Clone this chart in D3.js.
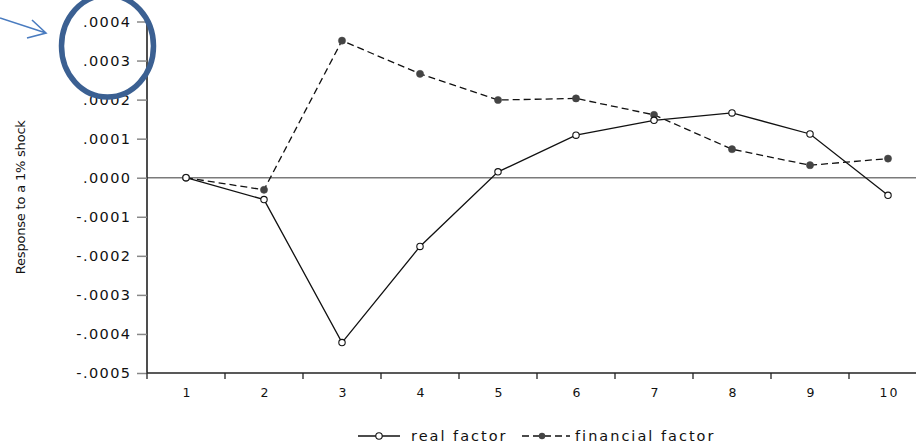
<!DOCTYPE html>
<html>
<head>
<meta charset="utf-8">
<script src="https://cdn.jsdelivr.net/npm/d3@7"></script>
<style>
  html, body { margin: 0; padding: 0; background: #fff; }
  svg { display: block; }
  text { font-family: "DejaVu Sans", sans-serif; fill: #111; }
</style>
</head>
<body>
<svg id="chart" width="916" height="447"></svg>
<script>
// Impulse-response horizon (periods)
const periods = [1, 2, 3, 4, 5, 6, 7, 8, 9, 10];
// Response of each factor to a 1% shock
const realFactor = [0, -0.000056, -0.000422, -0.000176, 0.000015, 0.000109, 0.000147, 0.000166, 0.000112, -0.000045];
const financialFactor = [0, -0.000031, 0.000351, 0.000266, 0.000199, 0.000203, 0.000161, 0.000073, 0.000032, 0.000049];
// Vertical axis ticks and their labels
const yTicks = [0.0004, 0.0003, 0.0002, 0.0001, 0, -0.0001, -0.0002, -0.0003, -0.0004, -0.0005];
const yTickLabels = [".0004", ".0003", ".0002", ".0001", ".0000", "-.0001", "-.0002", "-.0003", "-.0004", "-.0005"];
const seriesNames = ["real factor", "financial factor"];
const yTitle = "Response to a 1% shock";

const svg = d3.select("#chart");
const W = 916;

const x = d3.scaleBand().domain(periods).range([147, 927]).padding(0);
const y = d3.scaleLinear().domain([-0.0005, 0.0004]).range([373, 21.5]);
const cx = d => x(d) + x.bandwidth() / 2;

// Zero reference line
svg.append("line")
  .attr("x1", 147).attr("x2", W)
  .attr("y1", y(0)).attr("y2", y(0))
  .attr("stroke", "#7a7a7a").attr("stroke-width", 1.6);

// Y axis
const yAxis = d3.axisLeft(y)
  .tickValues(yTicks)
  .tickSize(10)
  .tickPadding(7)
  .tickFormat((d, i) => yTickLabels[i]);
const gy = svg.append("g").attr("transform", "translate(147,0)").call(yAxis);
gy.select(".domain").attr("stroke", "#222").attr("stroke-width", 1.6)
  .attr("d", `M0,${y(0.0004)}V${y(-0.0005)}`);
gy.selectAll(".tick line").attr("stroke", "#888").attr("stroke-width", 1.5);
gy.selectAll(".tick text")
  .attr("font-size", 14.5).attr("letter-spacing", 1.4).attr("dx", 1.4)
  .attr("fill", "#111").attr("font-family", "'DejaVu Sans', sans-serif");

// X axis: ticks on band boundaries, labels at band centres
const gx = svg.append("g").attr("transform", `translate(0,${y(-0.0005)})`);
gx.append("line").attr("x1", 147).attr("x2", W).attr("y1", 0).attr("y2", 0)
  .attr("stroke", "#222").attr("stroke-width", 1.6);
gx.selectAll("line.xt").data(periods).join("line").attr("class", "xt")
  .attr("x1", d => x(d)).attr("x2", d => x(d))
  .attr("y1", 0).attr("y2", 6)
  .attr("stroke", "#222").attr("stroke-width", 1.3);
gx.selectAll("text").data(periods).join("text")
  .attr("x", d => cx(d) + 1.5).attr("y", 24)
  .attr("text-anchor", "middle")
  .attr("font-size", 12.5).attr("letter-spacing", 2)
  .text(d => d);

// Y title
svg.append("text")
  .attr("transform", `translate(25,${(y(0.0004) + y(-0.0005)) / 2}) rotate(-90)`)
  .attr("text-anchor", "middle")
  .attr("font-size", 13).attr("letter-spacing", -0.2)
  .text(yTitle);

// Series lines
const line = d3.line().x((d, i) => cx(periods[i])).y(d => y(d));
svg.append("path").datum(financialFactor)
  .attr("d", line).attr("fill", "none")
  .attr("stroke", "#111").attr("stroke-width", 1.3)
  .attr("stroke-dasharray", "7,4");
svg.append("path").datum(realFactor)
  .attr("d", line).attr("fill", "none")
  .attr("stroke", "#111").attr("stroke-width", 1.3);

// Markers
svg.selectAll("circle.fin").data(financialFactor).join("circle").attr("class", "fin")
  .attr("cx", (d, i) => cx(periods[i])).attr("cy", d => y(d))
  .attr("r", 3.6).attr("fill", "#444").attr("stroke", "#444").attr("stroke-width", 0.5);
svg.selectAll("circle.real").data(realFactor).join("circle").attr("class", "real")
  .attr("cx", (d, i) => cx(periods[i])).attr("cy", d => y(d))
  .attr("r", 3.2).attr("fill", "#fff").attr("stroke", "#111").attr("stroke-width", 1.1);

// Legend
const ly = 436;
const lg = svg.append("g");
lg.append("line").attr("x1", 358).attr("x2", 400).attr("y1", ly).attr("y2", ly)
  .attr("stroke", "#111").attr("stroke-width", 1.3);
lg.append("circle").attr("cx", 379).attr("cy", ly).attr("r", 3.2)
  .attr("fill", "#fff").attr("stroke", "#111").attr("stroke-width", 1.1);
lg.append("text").attr("x", 411).attr("y", ly + 5)
  .attr("font-size", 14.5).attr("letter-spacing", 2).text(seriesNames[0]);
lg.append("line").attr("x1", 522).attr("x2", 570).attr("y1", ly).attr("y2", ly)
  .attr("stroke", "#111").attr("stroke-width", 1.3).attr("stroke-dasharray", "7,4");
lg.append("circle").attr("cx", 542).attr("cy", ly).attr("r", 3.2).attr("fill", "#444");
lg.append("text").attr("x", 575).attr("y", ly + 5)
  .attr("font-size", 14.5).attr("letter-spacing", 2).text(seriesNames[1]);

// Highlight around the top tick labels
svg.append("ellipse")
  .attr("cx", 107.5).attr("cy", 46).attr("rx", 46).attr("ry", 51)
  .attr("fill", "none").attr("stroke", "#3b6092").attr("stroke-width", 5.5);
svg.append("path")
  .attr("d", "M0,18L46,33M32,20L46,33L27,38")
  .attr("fill", "none").attr("stroke", "#4a7cc0").attr("stroke-width", 1.6)
  .attr("stroke-linejoin", "miter");
</script>
</body>
</html>
